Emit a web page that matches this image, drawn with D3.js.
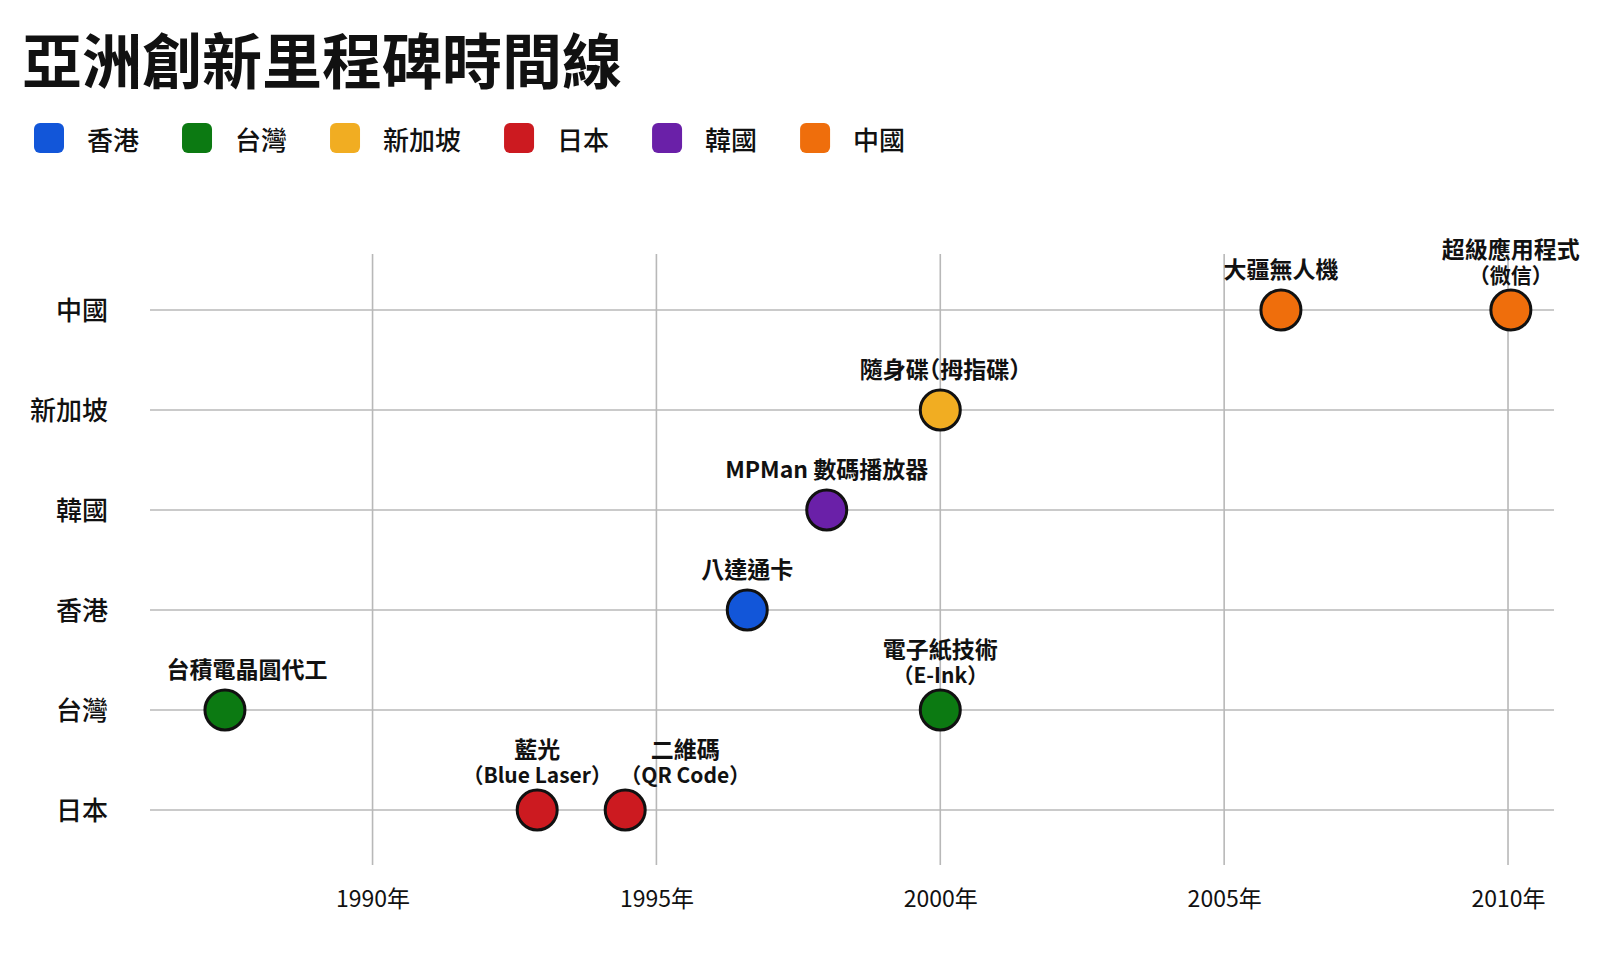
<!DOCTYPE html>
<html>
<head>
<meta charset="utf-8">
<script src="https://cdn.jsdelivr.net/npm/d3@7"></script>
<style>
  html, body { margin: 0; padding: 0; background: #ffffff; }
  svg { display: block; font-family: "Noto Sans CJK TC", "Noto Sans", sans-serif; }
  .label { font-feature-settings: "halt"; }
</style>
</head>
<body>
<svg id="chart" width="1606" height="979"></svg>
<script>
// rows top to bottom
var rows = ["中國", "新加坡", "韓國", "香港", "台灣", "日本"];
// legend order and colours
var regions = ["香港", "台灣", "新加坡", "日本", "韓國", "中國"];
var regionColors = ["#1256d9", "#0c7a12", "#f1ad22", "#cc1a20", "#6a20a8", "#ef6e0c"];

var milestoneNames = [
    ["台積電晶圓代工"],
    ["藍光", "（Blue Laser）"],
    ["二維碼", "（QR Code）"],
    ["八達通卡"],
    ["MPMan 數碼播放器"],
    ["隨身碟（拇指碟）"],
    ["電子紙技術", "（E-Ink）"],
    ["大疆無人機"],
    ["超級應用程式", "（微信）"]
];
var milestoneYears = [1987.4, 1992.9, 1994.45, 1996.6, 1998.0, 2000.0, 2000.0, 2006.0, 2010.05];
var milestoneRegion = ["台灣", "日本", "日本", "香港", "韓國", "新加坡", "台灣", "中國", "中國"];

var yearTicks = [1990, 1995, 2000, 2005, 2010];

var svg = d3.select("#chart");

// title
svg.append("text")
    .attr("x", 22)
    .attr("y", 57)
    .attr("dominant-baseline", "central")
    .style("font-size", "60px")
    .style("font-weight", 700)
    .style("fill", "#111")
    .text("亞洲創新里程碑時間線");

// legend
var color = d3.scaleOrdinal().domain(regions).range(regionColors);
var legend = svg.append("g").attr("transform", "translate(34,138)");
var lx = 0;
regions.forEach(function(r) {
    var g = legend.append("g").attr("transform", "translate(" + lx + ",0)");
    g.append("rect")
        .attr("x", 0).attr("y", -15)
        .attr("width", 30).attr("height", 30)
        .attr("rx", 6)
        .style("fill", color(r));
    var t = g.append("text")
        .attr("x", 53)
        .attr("dominant-baseline", "central")
        .style("font-size", "26px")
        .style("font-weight", 500)
        .style("fill", "#111")
        .text(r);
    lx += 53 + t.node().getComputedTextLength() + 43;
});

// scales
var x = d3.scaleLinear().domain([1986.08, 2010.81]).range([150, 1554]);
var y = d3.scalePoint().domain(rows).range([310, 810]);
var gridTop = 254, gridBottom = 865;

// grid
svg.append("g").selectAll("line")
    .data(rows).enter().append("line")
    .attr("x1", x.range()[0]).attr("x2", x.range()[1])
    .attr("y1", function(d) { return y(d); })
    .attr("y2", function(d) { return y(d); })
    .style("stroke", "#b8b8b8").style("stroke-width", 1.6);

svg.append("g").selectAll("line")
    .data(yearTicks).enter().append("line")
    .attr("x1", function(d) { return x(d); })
    .attr("x2", function(d) { return x(d); })
    .attr("y1", gridTop).attr("y2", gridBottom)
    .style("stroke", "#b8b8b8").style("stroke-width", 1.6);

// x axis labels
var xAxis = d3.axisBottom(x).tickValues(yearTicks)
    .tickSize(0).tickPadding(0)
    .tickFormat(function(d) { return d + "年"; });
var xg = svg.append("g").attr("transform", "translate(0,891)").call(xAxis);
xg.select(".domain").remove();
xg.selectAll("text")
    .style("font-family", "\"Noto Sans CJK TC\", sans-serif")
    .style("font-size", "23px")
    .style("fill", "#111");

// y axis labels
var yAxis = d3.axisLeft(y).tickSize(0).tickPadding(0);
var yg = svg.append("g").attr("transform", "translate(108,0)").call(yAxis);
yg.select(".domain").remove();
yg.selectAll("text")
    .attr("dy", "0.35em")
    .style("font-family", "\"Noto Sans CJK TC\", sans-serif")
    .style("font-size", "26px")
    .style("font-weight", 500)
    .style("fill", "#111");

// points
var idx = d3.range(milestoneYears.length);
svg.append("g").selectAll("circle")
    .data(idx).enter().append("circle")
    .attr("cx", function(i) { return x(milestoneYears[i]); })
    .attr("cy", function(i) { return y(milestoneRegion[i]); })
    .attr("r", 20)
    .style("fill", function(i) { return color(milestoneRegion[i]); })
    .style("stroke", "#111")
    .style("stroke-width", 3);

// labels, a couple nudged sideways so they don't collide
var labelNudge = { 0: 22, 2: 60 };
var labels = svg.append("g").selectAll("text")
    .data(idx).enter().append("text")
    .attr("class", "label")
    .attr("text-anchor", "middle")
    .style("font-weight", 700)
    .style("fill", "#111");

labels.each(function(i) {
    var lines = milestoneNames[i];
    var cx = x(milestoneYears[i]) + (labelNudge[i] || 0);
    var cy = y(milestoneRegion[i]);
    var last = lines.length > 1 ? cy - 36 : cy - 42;
    var t = d3.select(this);
    lines.forEach(function(s, k) {
        t.append("tspan")
            .attr("x", cx)
            .attr("y", last - (lines.length - 1 - k) * 26)
            .attr("dominant-baseline", "central")
            .style("font-size", k > 0 ? "21px" : "23px")
            .style("font-weight", k > 0 ? 600 : 700)
            .text(s);
    });
});
</script>
</body>
</html>
